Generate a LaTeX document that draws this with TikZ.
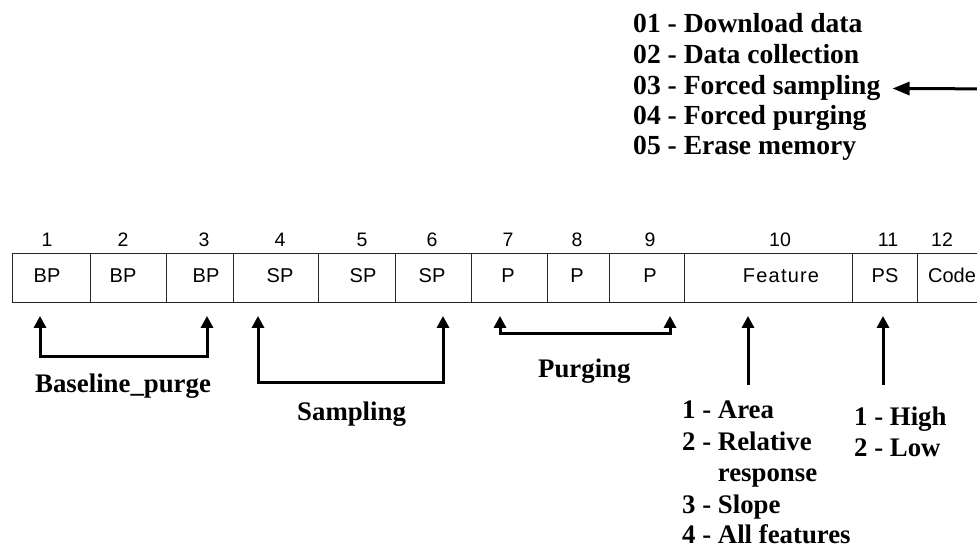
\documentclass[tikz,border=0pt]{standalone}
\usepackage{fontspec}
\setmainfont{Liberation Serif}
\setsansfont{Liberation Sans}
\usetikzlibrary{arrows.meta,calc}

\begin{document}
\begin{tikzpicture}[x=1pt,y=-1pt,
  cell/.style={draw=black!85, line width=0.9pt, minimum height=49pt, inner sep=0pt, anchor=north west},
  idx/.style={font=\sffamily\fontsize{19.5}{19.5}\selectfont, anchor=base, inner sep=0pt},
  tag/.style={font=\sffamily\fontsize{20}{20}\selectfont, anchor=base, inner sep=0pt},
  lbl/.style={font=\bfseries\fontsize{26.8}{31}\selectfont, anchor=base west, inner sep=0pt},
  code/.style={font=\bfseries\fontsize{27.6}{30}\selectfont, anchor=base west, inner sep=0pt},
  link/.style={line width=3pt, -{Triangle[length=12pt,width=12pt]}},
  brace/.style={line width=3pt, {Triangle[length=12pt,width=12pt]}-{Triangle[length=12pt,width=12pt]}},
]
\useasboundingbox (0,0) rectangle (977,548);
\clip (0,0) rectangle (977,548);

% message codes
\node[code] (m1) at (633,33)  {01 - Download data};
\node[code] (m2) at (633,64)  {02 - Data collection};
\node[code] (m3) at (633,95)  {03 - Forced sampling};
\node[code] (m4) at (633,125) {04 - Forced purging};
\node[code] (m5) at (633,155) {05 - Erase memory};
\coordinate (mstart) at (1010,89);
\draw[line width=3pt, -{Triangle[length=17pt,width=13pt]}] (mstart) -- ([xshift=12pt]m3.east);

% frame cells: left edge / width
\foreach \i/\l/\w in {1/12/78, 2/90/76, 3/166/67, 4/233/85, 5/318/77, 6/395/76,
                      7/471/76, 8/547/62, 9/609/75, 10/684/168, 11/852/65, 12/917/68, 13/985/80}
  \node[cell, minimum width=\w pt] (c\i) at (\l,253) {};

% cell indices
\foreach \i/\x in {1/47, 2/123, 3/204, 4/280, 5/362, 6/432, 7/508, 8/577, 9/650,
                   10/780, 11/888, 12/942, 13/991}
  \node[idx] (n\i) at (\x,246) {\i};

% cell contents
\node[tag] (t1) at (47,282)  {BP};
\node[tag] (t2) at (123,282) {BP};
\node[tag] (t3) at (206,282) {BP};
\node[tag] (t4) at (280,282) {SP};
\node[tag] (t5) at (363,282) {SP};
\node[tag] (t6) at (432,282) {SP};
\node[tag] (t7) at (508,282) {P};
\node[tag] (t8) at (577,282) {P};
\node[tag] (t9) at (650,282) {P};
\node[tag] (t10) at (781,282) {\addfontfeatures{LetterSpace=6}Feature};
\node[tag] (t11) at (885,282) {PS};
\node[tag] (t12) at (952,282) {Code};

% grouped fields
\draw[brace] ([shift={(28,13)}]c1.south west) -- ++(0,41) -| ([shift={(41,13)}]c3.south west);
\draw[brace] ([shift={(25,13)}]c4.south west) -- ++(0,67) -| ([shift={(48,13)}]c6.south west);
\draw[brace] ([shift={(29,13)}]c7.south west) -- ++(0,18) -| ([shift={(61,13)}]c9.south west);

\node[lbl] (gbp) at (35,392)  {Baseline\_purge};
\node[lbl] (gsp) at (297,420) {Sampling};
\node[lbl] (gp)  at (538,377) {Purging};

% feature options
\coordinate (fstart) at (748,385);
\draw[link] (fstart) -- ([shift={(64,13)}]c10.south west);
\node[lbl] (f1) at (682,418) {1 - Area};
\node[lbl] (f2) at (682,450) {2 - Relative};
\node[lbl] (f2b) at (682,481) {\phantom{2 - }response};
\node[lbl] (f3) at (682,513) {3 - Slope};
\node[lbl] (f4) at (682,543) {4 - All features};

% PS options
\coordinate (pstart) at (883,385);
\draw[link] (pstart) -- ([shift={(31,13)}]c11.south west);
\node[lbl] (p1) at (854,425) {1 - High};
\node[lbl] (p2) at (854,456) {2 - Low};
\end{tikzpicture}
\end{document}
